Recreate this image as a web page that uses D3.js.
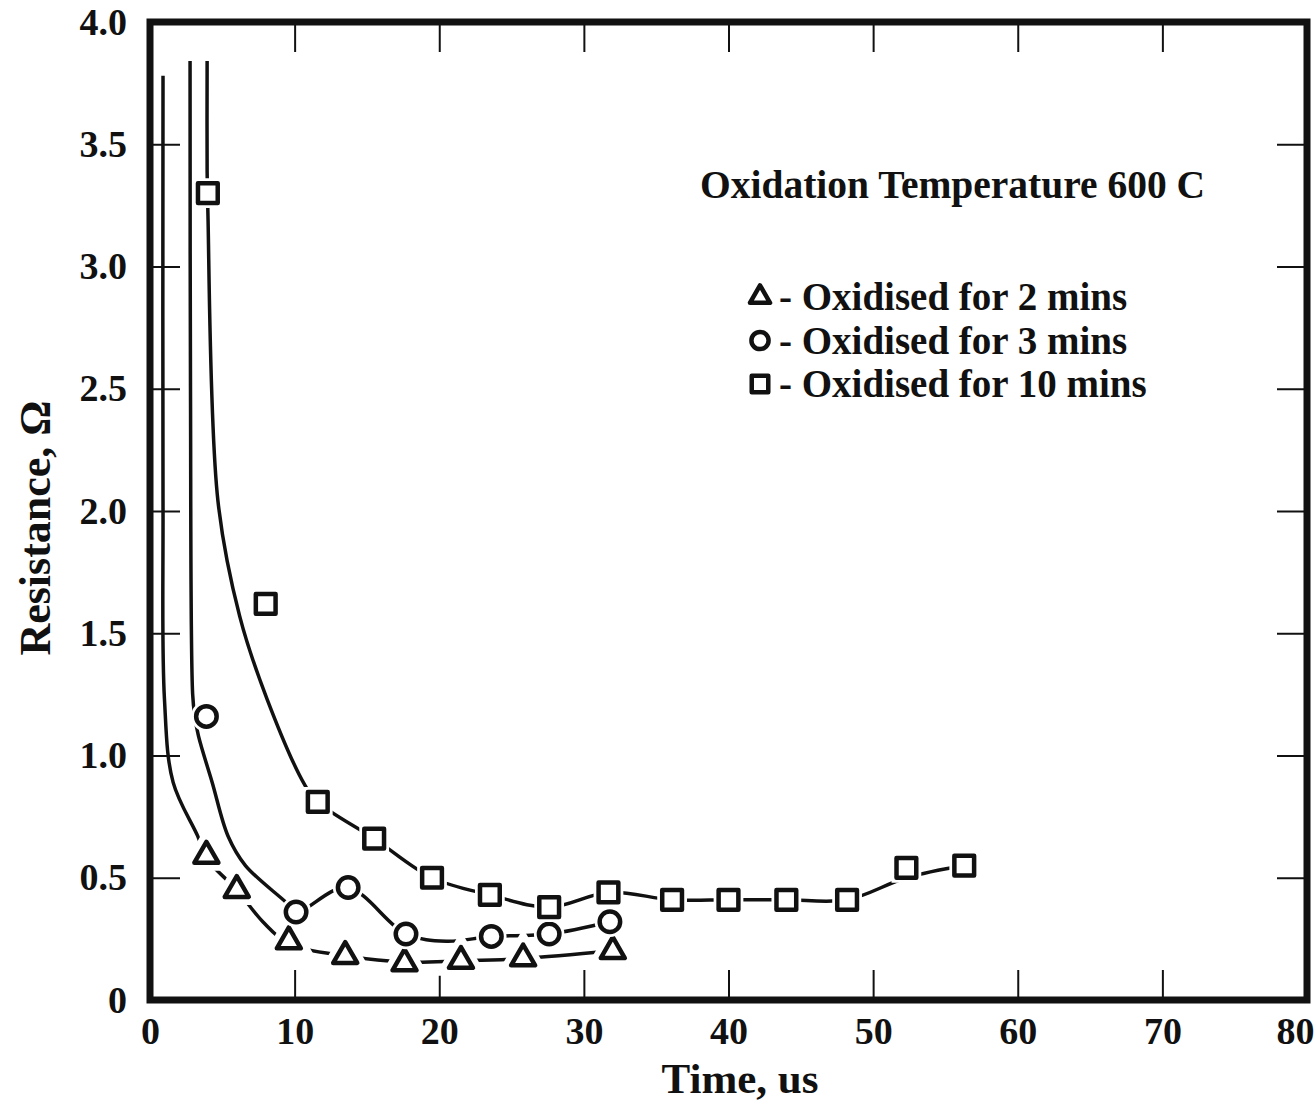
<!DOCTYPE html>
<html>
<head>
<meta charset="utf-8">
<script src="https://d3js.org/d3.v7.min.js"></script>
<style>
  body { margin: 0; background: #fff; }
  svg text { font-family: "Liberation Serif", "Times New Roman", serif; font-weight: bold; fill: #111; }
</style>
</head>
<body>
<div id="chart"></div>
<script>
// tick values
const xTicks = [0, 10, 20, 30, 40, 50, 60, 70, 80];
const yTicks = [0, 0.5, 1.0, 1.5, 2.0, 2.5, 3.0, 3.5, 4.0];

// measured points (time in us, resistance in ohm)
const time2 = [3.9, 6.0, 9.6, 13.5, 17.6, 21.5, 25.8, 32.0];
const res2 = [0.59, 0.45, 0.24, 0.18, 0.15, 0.16, 0.17, 0.20];
const time3 = [3.9, 10.1, 13.7, 17.7, 23.6, 27.6, 31.8];
const res3 = [1.16, 0.36, 0.46, 0.27, 0.26, 0.27, 0.32];
const time10 = [4.0, 8.0, 11.6, 15.5, 19.5, 23.5, 27.6, 31.7, 36.1, 40.0, 44.0, 48.2, 52.3, 56.3];
const res10 = [3.30, 1.62, 0.81, 0.66, 0.50, 0.43, 0.38, 0.44, 0.41, 0.41, 0.41, 0.41, 0.54, 0.55];

// hand drawn trend curves
const fit2X = [0.9, 0.9, 1.0, 1.6, 3.3, 3.9, 6.0, 7.8, 9.6, 13.6, 17.7, 21.5, 25.8, 31.9];
const fit2Y = [3.78, 2.04, 1.23, 0.89, 0.67, 0.58, 0.45, 0.32, 0.23, 0.18, 0.155, 0.16, 0.17, 0.20];
const fit3X = [2.77, 2.8, 2.95, 3.1, 3.35, 4.3, 5.4, 6.6, 9.4, 10.1, 13.6, 17.7, 20.5, 23.6, 27.6, 31.8];
const fit3Y = [3.84, 2.5, 1.25, 1.16, 1.08, 0.89, 0.67, 0.55, 0.40, 0.36, 0.46, 0.27, 0.24, 0.26, 0.27, 0.32];
const fit10X = [3.95, 3.95, 4.0, 4.7, 6.2, 8.1, 10.7, 11.6, 15.5, 19.5, 23.5, 27.6, 31.7, 36.1, 40.0, 44.0, 48.2, 52.3, 56.3];
const fit10Y = [3.84, 3.39, 3.23, 2.04, 1.57, 1.23, 0.88, 0.81, 0.66, 0.50, 0.43, 0.38, 0.44, 0.41, 0.41, 0.41, 0.41, 0.50, 0.55];

const legendLabels = ['- Oxidised for 2 mins', '- Oxidised for 3 mins', '- Oxidised for 10 mins'];

const margin = { top: 22, right: 9, bottom: 101, left: 150 };
const width = 1316 - margin.left - margin.right;
const height = 1101 - margin.top - margin.bottom;

const svg = d3.select('#chart')
    .append('svg')
    .attr('width', 1316)
    .attr('height', 1101);

const g = svg.append('g')
    .attr('transform', `translate(${margin.left},${margin.top})`);

const x = d3.scaleLinear().domain([0, 80]).range([0, width]);
const y = d3.scaleLinear().domain([0, 4]).range([height, 0]);

const yFmt = (d) => (d === 0 ? '0' : d3.format('.1f')(d));

function styleAxis(sel) {
    sel.select('.domain').remove();
    sel.selectAll('.tick line').attr('stroke', '#111').attr('stroke-width', 2);
    sel.selectAll('.tick text').style('font-size', '38px').attr('fill', '#111');
}

const xAxisG = g.append('g')
    .attr('transform', `translate(0,${height})`)
    .call(d3.axisBottom(x).tickValues(xTicks).tickSize(-30).tickPadding(17).tickFormat(d3.format('d')))
    .call(styleAxis);

// the last label sits a little inside the page edge, as in the original
xAxisG.selectAll('.tick text').filter((d) => d === 80).attr('dx', -12);

g.append('g')
    .call(d3.axisTop(x).tickValues(xTicks).tickSize(-30).tickFormat(''))
    .call(styleAxis);

g.append('g')
    .call(d3.axisLeft(y).tickValues(yTicks).tickSize(-30).tickPadding(23).tickFormat(yFmt))
    .call(styleAxis);

g.append('g')
    .attr('transform', `translate(${width},0)`)
    .call(d3.axisRight(y).tickValues(yTicks).tickSize(-30).tickFormat(''))
    .call(styleAxis);

g.append('rect')
    .attr('width', width)
    .attr('height', height)
    .attr('fill', 'none')
    .attr('stroke', '#111')
    .attr('stroke-width', 7);

// trend lines
const line = d3.line()
    .x((d) => x(d[0]))
    .y((d) => y(d[1]))
    .curve(d3.curveCatmullRom.alpha(0.5));

[[fit2X, fit2Y], [fit3X, fit3Y], [fit10X, fit10Y]].forEach(([xs, ys]) => {
    g.append('path')
        .datum(xs.map((v, i) => [v, ys[i]]))
        .attr('fill', 'none')
        .attr('stroke', '#111')
        .attr('stroke-width', 3.5)
        .attr('d', line);
});

// markers, drawn over a white halo so the lines break around them
const series = [
    { xs: time2, ys: res2, type: d3.symbolTriangle, size: 250, halo: 16 },
    { xs: time3, ys: res3, type: d3.symbolCircle, size: 330, halo: 10 },
    { xs: time10, ys: res10, type: d3.symbolSquare, size: 390, halo: 10 },
];

series.forEach((s) => {
    const pts = s.xs.map((v, i) => [v, s.ys[i]]);
    const sym = d3.symbol().type(s.type).size(s.size);
    g.append('g').selectAll('path')
        .data(pts)
        .join('path')
        .attr('transform', (d) => `translate(${x(d[0])},${y(d[1])})`)
        .attr('d', sym)
        .attr('fill', '#fff')
        .attr('stroke', '#fff')
        .attr('stroke-width', s.halo);
    g.append('g').selectAll('path')
        .data(pts)
        .join('path')
        .attr('transform', (d) => `translate(${x(d[0])},${y(d[1])})`)
        .attr('d', sym)
        .attr('fill', '#fff')
        .attr('stroke', '#111')
        .attr('stroke-width', 4.5)
        .attr('stroke-linejoin', 'round');
});

// annotation and legend
svg.append('text')
    .attr('x', 700)
    .attr('y', 198)
    .style('font-size', '39.5px')
    .text('Oxidation Temperature 600 C');

const legend = svg.append('g');
series.forEach((s, i) => {
    const cy = 297 + i * 43.5;
    legend.append('path')
        .attr('transform', `translate(${760},${cy})`)
        .attr('d', d3.symbol().type(s.type).size(s.size * 0.7))
        .attr('fill', '#fff')
        .attr('stroke', '#111')
        .attr('stroke-width', 4.5)
        .attr('stroke-linejoin', 'round');
    legend.append('text')
        .attr('x', 779)
        .attr('y', cy + 13)
        .style('font-size', '39px')
        .text(legendLabels[i]);
});

// axis titles
svg.append('text')
    .attr('text-anchor', 'middle')
    .attr('x', 740)
    .attr('y', 1093)
    .style('font-size', '43px')
    .text('Time, us');

svg.append('text')
    .attr('text-anchor', 'middle')
    .attr('transform', 'translate(50,528) rotate(-90)')
    .style('font-size', '44px')
    .text('Resistance, Ω');
</script>
</body>
</html>
